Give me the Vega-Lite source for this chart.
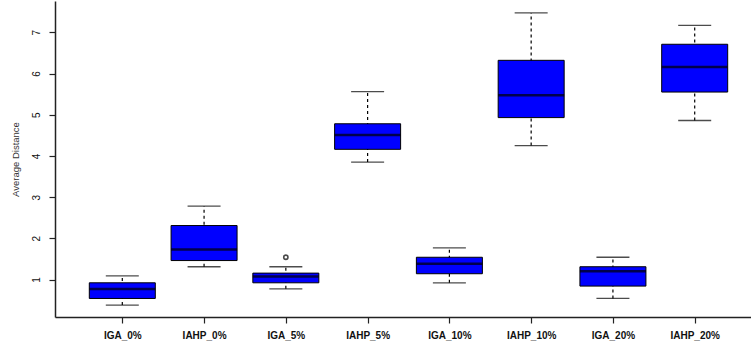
{
  "$schema": "https://vega.github.io/schema/vega-lite/v6.json",
  "width": 696,
  "height": 316,
  "autosize": {"type": "none"},
  "padding": {"left": 55, "top": 1, "right": 0, "bottom": 32},
  "background": "white",
  "config": {
    "view": {"stroke": null},
    "font": "Liberation Sans",
    "axis": {"grid": false, "domainColor": "#222", "domainWidth": 1.5, "tickColor": "#222", "tickWidth": 1.2, "tickSize": 6, "labelColor": "#111"}
  },
  "datasets": {
    "stats": [
      {"group": "IGA_0%", "lower": 0.38, "q1": 0.54, "median": 0.77, "q3": 0.92, "upper": 1.09},
      {"group": "IAHP_0%", "lower": 1.31, "q1": 1.46, "median": 1.73, "q3": 2.31, "upper": 2.78},
      {"group": "IGA_5%", "lower": 0.775, "q1": 0.92, "median": 1.075, "q3": 1.155, "upper": 1.31},
      {"group": "IAHP_5%", "lower": 3.85, "q1": 4.16, "median": 4.505, "q3": 4.78, "upper": 5.56},
      {"group": "IGA_10%", "lower": 0.92, "q1": 1.14, "median": 1.38, "q3": 1.54, "upper": 1.77},
      {"group": "IAHP_10%", "lower": 4.25, "q1": 4.93, "median": 5.47, "q3": 6.32, "upper": 7.47},
      {"group": "IGA_20%", "lower": 0.54, "q1": 0.84, "median": 1.2, "q3": 1.31, "upper": 1.54},
      {"group": "IAHP_20%", "lower": 4.86, "q1": 5.55, "median": 6.16, "q3": 6.71, "upper": 7.17}
    ],
    "outliers": [
      {"group": "IGA_5%", "value": 1.54}
    ]
  },
  "layer": [
    {
      "data": {"name": "stats"},
      "mark": {"type": "rule", "strokeDash": [3, 3], "strokeWidth": 1.2, "color": "black"},
      "encoding": {
        "x": {
          "field": "group", "type": "nominal", "sort": null,
          "scale": {"type": "point", "padding": 0.823, "range": [0, 707]},
          "axis": {"title": null, "labelAngle": 0, "labelFontSize": 10, "labelFontWeight": "bold", "labelPadding": 7}
        },
        "y": {
          "field": "lower", "type": "quantitative",
          "scale": {"domain": [0.09, 7.76], "nice": false, "zero": false},
          "axis": {"title": "Average Distance", "titleFontWeight": "normal", "titleFontSize": 9.5, "titleColor": "#333", "titlePadding": 11, "values": [1, 2, 3, 4, 5, 6, 7], "labelAngle": -90, "labelFontSize": 10, "labelPadding": 8, "labelAlign": "center", "labelBaseline": "bottom"}
        },
        "y2": {"field": "upper"}
      }
    },
    {
      "data": {"name": "stats"},
      "mark": {"type": "tick", "size": 33, "thickness": 1.3, "color": "black"},
      "encoding": {
        "x": {"field": "group", "type": "nominal", "sort": null},
        "y": {"field": "lower", "type": "quantitative"}
      }
    },
    {
      "data": {"name": "stats"},
      "mark": {"type": "tick", "size": 33, "thickness": 1.3, "color": "black"},
      "encoding": {
        "x": {"field": "group", "type": "nominal", "sort": null},
        "y": {"field": "upper", "type": "quantitative"}
      }
    },
    {
      "data": {"name": "stats"},
      "mark": {"type": "bar", "size": 66, "fill": "#0000FF", "stroke": "black", "strokeWidth": 1},
      "encoding": {
        "x": {"field": "group", "type": "nominal", "sort": null},
        "y": {"field": "q1", "type": "quantitative"},
        "y2": {"field": "q3"}
      }
    },
    {
      "data": {"name": "stats"},
      "mark": {"type": "tick", "size": 66, "thickness": 2.5, "color": "black"},
      "encoding": {
        "x": {"field": "group", "type": "nominal", "sort": null},
        "y": {"field": "median", "type": "quantitative"}
      }
    },
    {
      "data": {"name": "outliers"},
      "mark": {"type": "point", "shape": "circle", "size": 18, "filled": false, "stroke": "black", "strokeWidth": 1.6},
      "encoding": {
        "x": {"field": "group", "type": "nominal", "sort": null},
        "y": {"field": "value", "type": "quantitative"}
      }
    },
    {
      "mark": {"type": "rule", "color": "#222", "strokeWidth": 1.5},
      "encoding": {"y": {"datum": 7.76}}
    }
  ]
}
